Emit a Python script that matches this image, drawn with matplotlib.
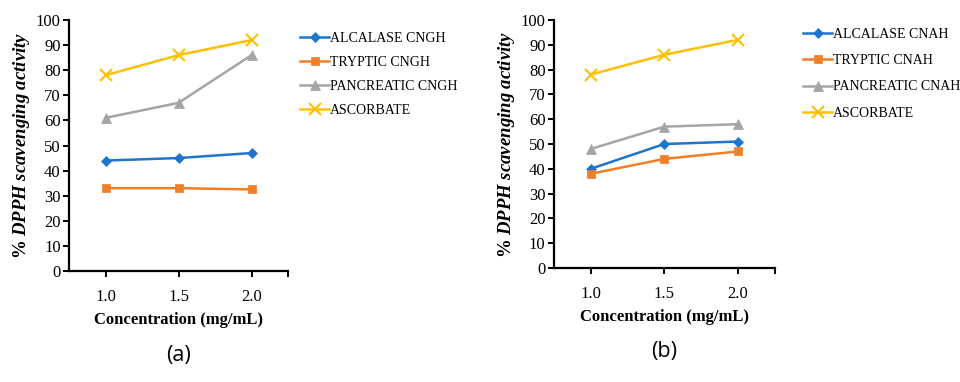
import matplotlib
matplotlib.use("Agg")
import matplotlib.pyplot as plt
import numpy as np

# concentrations (mg/mL)
conc = ["1.0", "1.5", "2.0"]

# panel (a) - CNGH
alcalase_a = [44, 45, 47]
tryptic_a = [33, 33, 32.5]
pancreatic_a = [61, 67, 86]
ascorbate_a = [78, 86, 92]

# panel (b) - CNAH
alcalase_b = [40, 50, 51]
tryptic_b = [38, 44, 47]
pancreatic_b = [48, 57, 58]
ascorbate_b = [78, 86, 92]

names_a = ["ALCALASE CNGH", "TRYPTIC CNGH", "PANCREATIC CNGH", "ASCORBATE"]
names_b = ["ALCALASE CNAH", "TRYPTIC CNAH", "PANCREATIC CNAH", "ASCORBATE"]

colors = ["#1f74cc", "#f07f2a", "#a5a5a5", "#ffc000"]
markers = ["D", "s", "^", "x"]
msizes = [5.5, 6, 6.5, 8]

serif = "Liberation Serif"


def draw_panel(ax, series, names, tag, leg_xy, spacing):
    x = np.arange(len(conc))
    lines = []
    for vals, name, c, m, ms in zip(series, names, colors, markers, msizes):
        ln, = ax.plot(x, vals, color=c, marker=m, markersize=ms, lw=1.8,
                      markeredgewidth=1.5 if m == "x" else 0.5, label=name)
        lines.append(ln)
    ax.set_xlim(-0.5, 2.5)
    ax.set_ylim(0, 100)
    ax.set_yticks(range(0, 101, 10))
    ax.set_xticks(x)
    ax.set_xticklabels(conc)
    ax.set_xticks([2.5], minor=True)
    for s in ["top", "right"]:
        ax.spines[s].set_visible(False)
    for s in ["left", "bottom"]:
        ax.spines[s].set_linewidth(1.6)
    ax.tick_params(axis="both", which="both", direction="out", length=4, width=1.4,
                   labelsize=12)
    for lab in ax.get_xticklabels() + ax.get_yticklabels():
        lab.set_fontfamily(serif)
    ax.tick_params(axis="x", pad=9)
    ax.tick_params(axis="y", pad=2)
    ax.set_xlabel("Concentration (mg/mL)", fontfamily=serif, fontweight="bold",
                  fontsize=12, labelpad=5)
    ax.set_ylabel(r"% $\mathbfit{DPPH\ scavenging\ activity}$", fontfamily=serif,
                  fontweight="bold", fontsize=13.5, labelpad=3)
    ax.text(0.5, -0.335, tag, transform=ax.transAxes, ha="center", va="center",
            fontsize=15.5, fontfamily="Open Sans")
    ax.legend(handles=lines, loc="upper left", bbox_to_anchor=leg_xy,
              bbox_transform=ax.figure.transFigure, frameon=False,
              prop={"family": serif, "size": 10}, handlelength=2.1,
              handletextpad=0.05, labelspacing=spacing, borderpad=0, borderaxespad=0)


plt.rcParams["mathtext.fontset"] = "custom"
plt.rcParams["mathtext.rm"] = serif
plt.rcParams["mathtext.it"] = serif + ":italic"
plt.rcParams["mathtext.bf"] = serif + ":bold"
plt.rcParams["mathtext.bfit"] = serif + ":bold:italic"

fig = plt.figure(figsize=(9.6, 3.82), dpi=100)
ax_a = fig.add_axes([0.0719, 0.2906, 0.2281, 0.657])
ax_b = fig.add_axes([0.577, 0.2984, 0.230, 0.6492])

draw_panel(ax_a, [alcalase_a, tryptic_a, pancreatic_a, ascorbate_a], names_a, "(a)",
           (300 / 960, 1 - 32 / 382), 0.8)
draw_panel(ax_b, [alcalase_b, tryptic_b, pancreatic_b, ascorbate_b], names_b, "(b)",
           (803 / 960, 1 - 28 / 382), 0.95)

fig.savefig("out.png", dpi=100)
